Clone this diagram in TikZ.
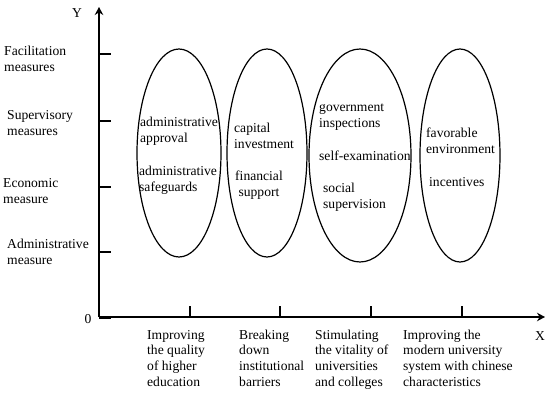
\documentclass[tikz,border=0pt]{standalone}
\usepackage{fontspec}
\setmainfont{Liberation Serif}
\usetikzlibrary{arrows.meta,shapes.geometric}
\begin{document}
\begin{tikzpicture}[x=1pt,y=-1pt,
  lbl/.style={font=\fontsize{13.6pt}{16pt}\selectfont, align=left, inner sep=0pt, anchor=west},
  xlbl/.style={lbl, font=\fontsize{13.6pt}{15.7pt}\selectfont},
  letter/.style={font=\fontsize{13.6pt}{16pt}\selectfont, inner sep=0pt},
  oval/.style={ellipse, draw, line width=1.2pt, inner sep=0pt, outer sep=0pt},
  axis/.style={line width=1.8pt, -{Stealth[length=8pt,width=8.5pt]}},
  tickmark/.style={line width=1.3pt}]
\useasboundingbox (0,0) rectangle (550,393);

% axes
\coordinate (O) at (99,317);
\coordinate (ytip) at (99,7);
\coordinate (xtip) at (545,317);
\draw[axis] (O) -- (ytip);
\draw[axis] (O) -- (xtip);
\draw[tickmark] (99,318.5) -- (111,318.5);
\foreach \yy in {54,121,187,252} \draw[tickmark] (99,\yy) -- (111,\yy);
\foreach \xx in {190,280,371,462} \draw[tickmark] (\xx,317) -- (\xx,306);

\node[letter] (ylab) at (77,13) {Y};
\node[letter] (xlab) at (540,336) {X};
\node[letter] (zero) at (88,319) {0};

% y labels
\node[lbl] (fac) at (4,60) {\strut Facilitation\\\strut measures};
\node[lbl] (sup) at (7,124.5) {\strut Supervisory\\\strut measures};
\node[lbl] (eco) at (3,192) {\strut Economic\\\strut measure};
\node[lbl] (adm) at (7,253.5) {\strut Administrative\\\strut measure};

% ellipses
\node[oval, minimum width=84pt, minimum height=208pt] (e1) at (179,153) {};
\node[oval, minimum width=80pt, minimum height=208pt] (e2) at (267,153) {};
\node[oval, minimum width=102pt, minimum height=213pt] (e3) at (360,155.5) {};
\node[oval, minimum width=80pt, minimum height=213pt] (e4) at (460,155.5) {};

% ellipse texts
\node[lbl] (t1a) at (140,131.5) {\strut administrative\\\strut approval};
\node[lbl] (t1b) at (139,180) {\strut administrative\\\strut safeguards};
\node[lbl] (t2a) at (234,137) {\strut capital\\\strut investment};
\node[lbl] (t2b) at (235,185.5) {\strut financial\\\strut\ support};
\node[lbl] (t3a) at (319,116) {\strut government\\\strut inspections};
\node[lbl] (t3b) at (319,157) {\strut self-examination};
\node[lbl] (t3c) at (323,197.5) {\strut social\\\strut supervision};
\node[lbl] (t4a) at (426,142.5) {\strut favorable\\\strut environment};
\node[lbl] (t4b) at (429,183) {\strut incentives};

% x labels
\node[xlbl] (x1) at (147,359.5) {\strut Improving\\\strut the quality\\\strut of higher\\\strut education};
\node[xlbl] (x2) at (239,359.5) {\strut Breaking\\\strut down\\\strut institutional\\\strut barriers};
\node[xlbl] (x3) at (315,359.5) {\strut Stimulating\\\strut the vitality of\\\strut universities\\\strut and colleges};
\node[xlbl] (x4) at (403,359.5) {\strut Improving the\\\strut modern university\\\strut system with chinese\\\strut characteristics};
\end{tikzpicture}
\end{document}
